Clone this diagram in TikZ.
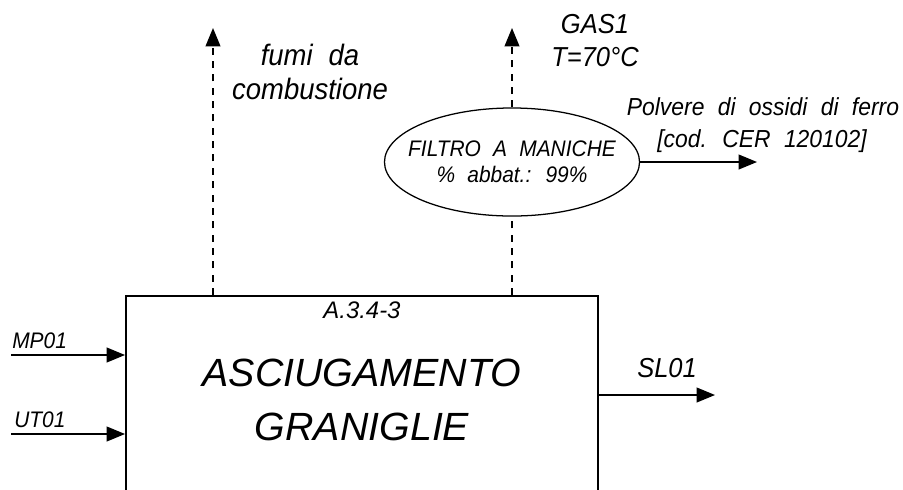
\documentclass[tikz,border=0pt]{standalone}
\usepackage{fontspec}
\setmainfont{Liberation Sans}
\newfontfamily\cadfont{Liberation Sans}[WordSpace=1.7,FakeStretch=0.93]
\newfontfamily\cadwide{Liberation Sans}[WordSpace=2.1,FakeStretch=0.93]
\usetikzlibrary{shapes.geometric}
\usetikzlibrary{arrows.meta}
\usetikzlibrary{positioning}

\tikzset{
  flow/.style={line width=1pt,-{Triangle[length=13pt,width=10.5pt]}},
  gasline/.style={line width=1pt,dash pattern=on 5pt off 4.5pt},
  gasflow/.style={flow,gasline},
  lbl/.style={inner sep=0pt,font=\cadfont\itshape\fontsize{16}{18}\selectfont},
  widelbl/.style={inner sep=0pt,font=\cadwide\itshape\fontsize{17.5}{20}\selectfont},
  biglbl/.style={inner sep=0pt,align=center,font=\cadfont\itshape\fontsize{19.5}{23.5}\selectfont},
}

\begin{document}
\begin{tikzpicture}[x=0.025cm,y=-0.025cm]
      \clip (0,0) rectangle (903,489);

      \node[draw,line width=1.3pt,minimum width=11.8cm,minimum height=5.75cm] (essic) at (362,411) {};
      \node[inner sep=0pt,font=\itshape\fontsize{17}{20}\selectfont] (codice) at (362,310) {A.3.4-3};
      \node[inner sep=0pt,font=\itshape\fontsize{28}{34}\selectfont] (asc) at (362,373) {ASCIUGAMENTO};
      \node[inner sep=0pt,font=\itshape\fontsize{28}{34}\selectfont] (gran) at (362,427) {GRANIGLIE};

      \node[draw,ellipse,line width=0.9pt,minimum width=6.375cm,minimum height=2.7cm,inner sep=0pt] (filtro) at (512,162) {};
      \node[lbl,align=center,font=\cadfont\itshape\fontsize{16}{18.5}\selectfont] (filtrotxt) at (filtro.center) {FILTRO A MANICHE\\\% abbat.: 99\%};

      % ingressi
      \coordinate (mpin) at (11,355);
      \coordinate (utin) at (11,434);
      \draw[flow] (mpin) -- (mpin -| essic.west);
      \draw[flow] (utin) -- (utin -| essic.west);
      \node[lbl,anchor=base west] (mp) at (12,348) {MP01};
      \node[lbl,anchor=base west] (ut) at (14,427) {UT01};

      % uscita
      \coordinate (slout) at (715,395);
      \draw[flow] (slout -| essic.east) -- (slout);
      \node[biglbl,anchor=base west] (sl) at (637,377) {SL01};

      % fumi
      \coordinate (fumitop) at (213,28);
      \draw[gasflow] (fumitop |- essic.north) -- (fumitop);
      \node[biglbl,anchor=north,font=\cadfont\itshape\fontsize{21}{24}\selectfont] (fumi) at (310,44) {fumi da\\combustione};

      % gas al filtro
      \coordinate (gastop) at (512,28);
      \draw[gasline] (filtro.south |- essic.north) -- (filtro.south);
      \draw[gasflow] (filtro.north) -- (gastop);
      \node[biglbl,anchor=north] (gas) at (595,14) {GAS1\\T=70°C};

      % polveri
      \coordinate (polvout) at (757,162);
      \draw[flow] (filtro.east) -- (polvout);
      \node[widelbl,anchor=base] (polv) at (763,115) {Polvere di ossidi di ferro};
      \node[widelbl,anchor=base] (cer) at (762,147) {[cod. CER 120102]};
\end{tikzpicture}
\end{document}
